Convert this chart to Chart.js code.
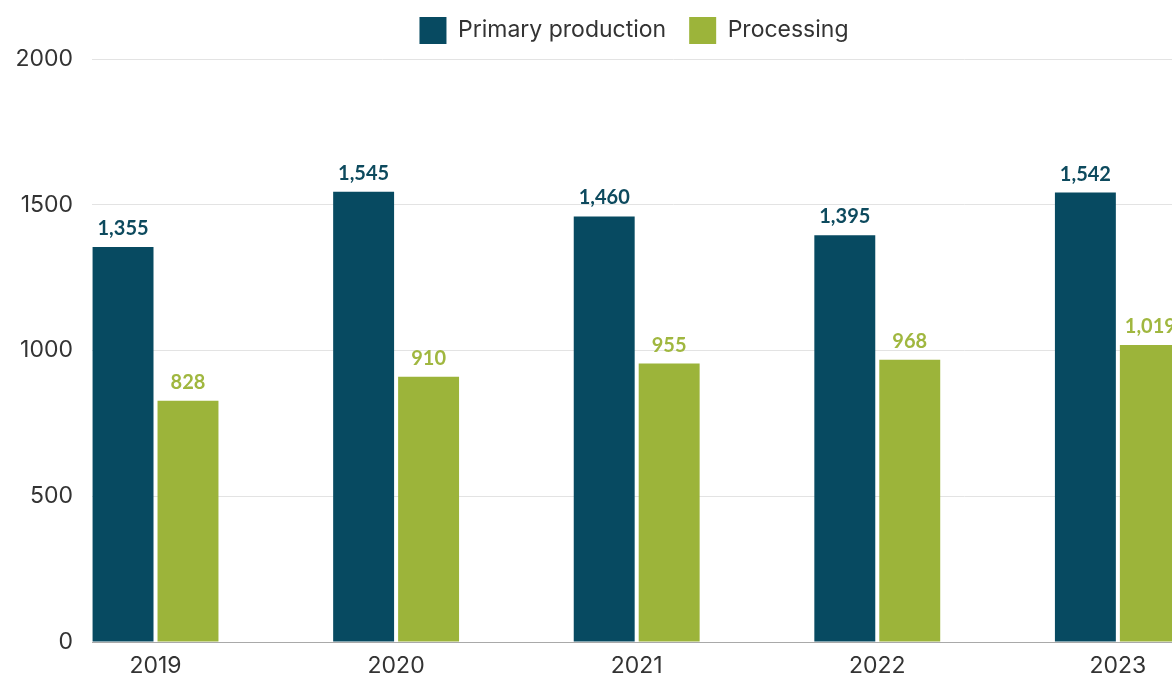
<!DOCTYPE html>
<html>
<head>
<meta charset="utf-8">
<script src="https://cdn.jsdelivr.net/npm/chart.js@4"></script>
<style>
    html, body { margin: 0; padding: 0; background: #fff; overflow: hidden; }
    #wrap { width: 1268px; height: 675px; }
</style>
</head>
<body>
<div id="wrap"><canvas id="myChart"></canvas></div>
<script>
const years = [2019, 2020, 2021, 2022, 2023];
const primaryProduction = [1355, 1545, 1460, 1395, 1542];
const processing = [828, 910, 955, 968, 1019];
const yTicks = [0, 500, 1000, 1500, 2000];

const darkTeal = '#074a61';
const olive = '#9cb43a';
const axisFont = { family: 'Inter', size: 23 };

function toPoints(values) {
    return years.map((year, i) => ({ x: year, y: values[i] }));
}

// value labels above each bar, taken from the bar elements themselves
const barLabels = {
    id: 'barLabels',
    afterDatasetsDraw(chart) {
        const ctx = chart.ctx;
        ctx.save();
        ctx.font = 'bold 20px Lato';
        ctx.textAlign = 'center';
        ctx.textBaseline = 'alphabetic';
        chart.data.datasets.forEach((dataset, i) => {
            chart.getDatasetMeta(i).data.forEach((bar, j) => {
                ctx.fillStyle = dataset.labelColor;
                ctx.fillText(dataset.data[j].y.toLocaleString('en-US'), bar.x, bar.y - 12);
            });
        });
        ctx.restore();
    }
};

// trim the legend block so the plot starts right under it
const legendHeight = {
    id: 'legendHeight',
    beforeInit(chart) {
        const fit = chart.legend.fit;
        chart.legend.fit = function () {
            fit.bind(chart.legend)();
            this.height = 65;
        };
    }
};

let ctx = document.getElementById('myChart').getContext('2d');
let myChart = new Chart(ctx, {
    type: 'bar',
    data: {
        datasets: [{
            label: 'Primary production',
            data: toPoints(primaryProduction),
            backgroundColor: darkTeal,
            labelColor: '#0d4a5e'
        }, {
            label: 'Processing',
            data: toPoints(processing),
            backgroundColor: olive,
            labelColor: '#a0b73f'
        }]
    },
    options: {
        responsive: true,
        maintainAspectRatio: false,
        animation: false,
        categoryPercentage: 0.54,
        barPercentage: 0.938,
        layout: {
            padding: { top: -6, left: 13, right: 13, bottom: 0 }
        },
        plugins: {
            tooltip: { enabled: false },
            legend: {
                position: 'top',
                labels: {
                    color: '#333',
                    font: axisFont,
                    boxWidth: 27,
                    boxHeight: 27,
                    padding: 23
                }
            }
        },
        scales: {
            x: {
                type: 'linear',
                min: 2019 - 0.264,
                max: 2023 + 0.57,
                offset: false,
                grid: { display: false, offset: false, drawTicks: false },
                border: { display: true, color: '#a9a9a9', width: 1 },
                ticks: {
                    stepSize: 1,
                    includeBounds: false,
                    color: '#333',
                    font: axisFont,
                    padding: 10,
                    maxRotation: 0,
                    callback: value => String(value)
                },
                afterFit(scale) {
                    scale.height = 33;
                }
            },
            y: {
                min: 0,
                max: 2000,
                grid: { color: '#e3e3e3', drawTicks: false },
                border: { display: false },
                afterBuildTicks(scale) {
                    scale.ticks = yTicks.map(v => ({ value: v }));
                },
                ticks: {
                    color: '#333',
                    font: axisFont,
                    padding: 19,
                    callback: value => String(value)
                },
                afterFit(scale) {
                    scale.width = 79;
                }
            }
        }
    },
    plugins: [barLabels, legendHeight]
});
</script>
</body>
</html>
